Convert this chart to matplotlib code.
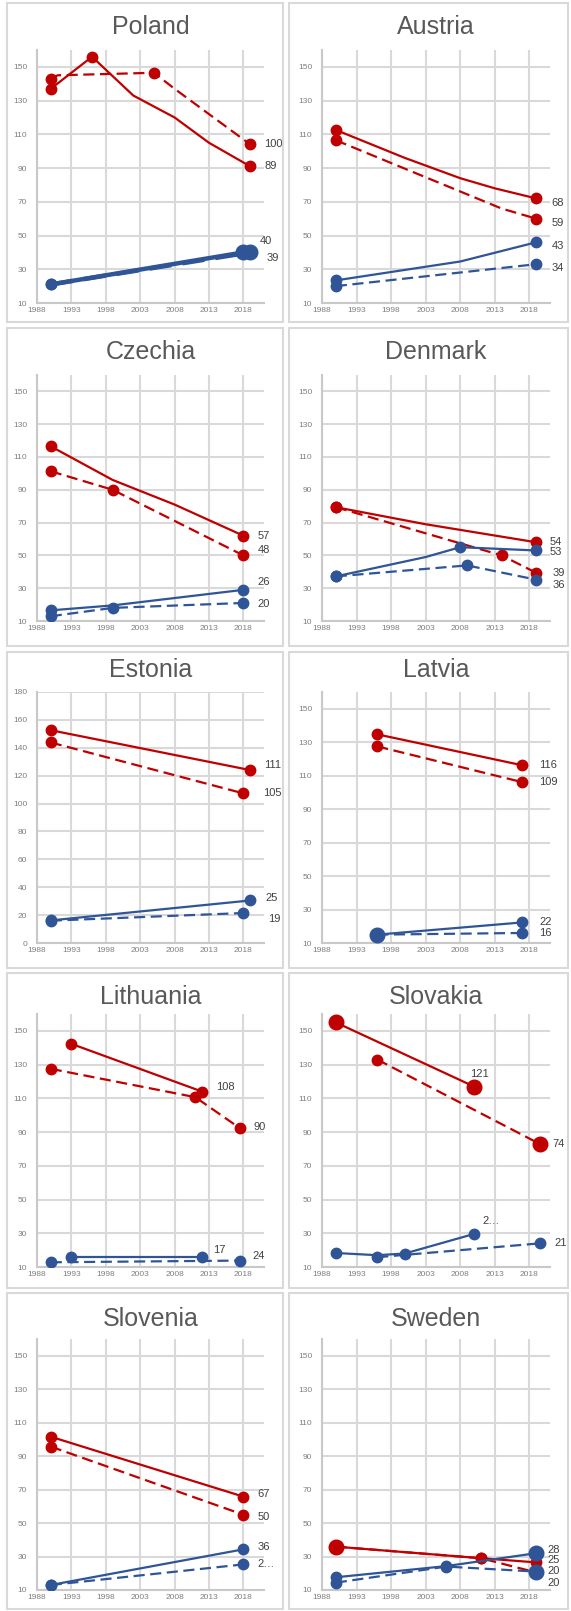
import matplotlib
matplotlib.use("Agg")
import matplotlib.pyplot as plt
from matplotlib.patches import Rectangle

plt.rcParams['font.family'] = ['Liberation Sans', 'DejaVu Sans']

# series keys: rs = red solid, rd = red dashed, bs = blue solid, bd = blue dashed
countries = ['Poland', 'Austria', 'Czechia', 'Denmark', 'Estonia',
             'Latvia', 'Lithuania', 'Slovakia', 'Slovenia', 'Sweden']

poland = {
    'rs': ([1990, 1996, 2002, 2008, 2013, 2019], [137, 156, 133, 120, 105, 91]),
    'rd': ([1990, 1991, 2005, 2008, 2019], [143, 145, 146.5, 137, 104]),
    'bs': ([1990, 2018], [21, 40]),
    'bd': ([1990, 2019], [21, 40]),
}
austria = {
    'rs': ([1990, 2000, 2008, 2013, 2019], [112.6, 96, 84, 78, 72]),
    'rd': ([1990, 2014, 2019], [106.5, 66, 60]),
    'bs': ([1990, 2008, 2019], [23.4, 34.6, 46]),
    'bd': ([1990, 2019], [20, 33]),
}
czechia = {
    'rs': ([1990, 1999, 2008, 2018], [116.5, 96, 81, 62]),
    'rd': ([1990, 1999, 2018], [101.3, 90, 50]),
    'bs': ([1990, 1999, 2018], [16.5, 19.5, 29]),
    'bd': ([1990, 1999, 2018], [12.9, 18, 21]),
}
denmark = {
    'rs': ([1990, 2003, 2019], [79.4, 69, 58]),
    'rd': ([1990, 2014, 2019], [79.4, 50, 39.4]),
    'bs': ([1990, 2003, 2008, 2019], [37.2, 49, 55, 53]),
    'bd': ([1990, 2009, 2019], [37.2, 43.9, 35.2]),
}
estonia = {
    'rs': ([1990, 2019], [152.6, 124]),
    'rd': ([1990, 2018], [143.8, 107.3]),
    'bs': ([1990, 2019], [16.2, 30.5]),
    'bd': ([1990, 2018], [16, 21.5]),
}
latvia = {
    'rs': ([1996, 2017], [134.7, 116.2]),
    'rd': ([1996, 2017], [127.5, 106.1]),
    'bs': ([1996, 2017], [15, 22.3]),
    'bd': ([1996, 2017], [15, 16]),
}
lithuania = {
    'rs': ([1993, 2012], [142.3, 114]),
    'rd': ([1990, 2011, 2017.5], [127.5, 110.7, 92.3]),
    'bs': ([1993, 2012], [16, 16]),
    'bd': ([1990, 2017.5], [12.8, 13.8]),
}
slovakia = {
    'rs': ([1990, 2010], [155, 117]),
    'rd': ([1996, 2019.5], [133, 83]),
    'bs': ([1990, 1996, 2000, 2010], [18.3, 17, 18, 29.6]),
    'bd': ([1996, 2019.5], [15.8, 24]),
}
slovenia = {
    'rs': ([1990, 2018], [101.6, 65.8]),
    'rd': ([1990, 2018], [95.7, 55]),
    'bs': ([1990, 2018], [13, 34.3]),
    'bd': ([1990, 2018], [13, 25.3]),
}
sweden = {
    'rs': ([1990, 2011, 2019], [35.9, 29, 26.5]),
    'rd': ([1990, 2011, 2019], [35.9, 29, 20.5]),
    'bs': ([1990, 2006, 2019], [17.6, 24.3, 32]),
    'bd': ([1990, 2006, 2019], [14.4, 24, 21]),
}
data = [poland, austria, czechia, denmark, estonia,
        latvia, lithuania, slovakia, slovenia, sweden]

# end labels (rs, rd, bs, bd)
end_labels = [
    ['89', '100', '40', '39'],
    ['68', '59', '43', '34'],
    ['57', '48', '26', '20'],
    ['54', '39', '53', '36'],
    ['111', '105', '25', '19'],
    ['116', '109', '22', '16'],
    ['108', '90', '17', '24'],
    ['121', '74', '2…', '21'],
    ['67', '50', '36', '2…'],
    ['25', '20', '28', '20'],
]

x_ticks = [1988, 1993, 1998, 2003, 2008, 2013, 2018]

# ---- styling ----
RED = '#c00000'
BLUE = '#2f5597'
GRID = '#d9d9d9'
W, H = 571, 1611

keys = ['rs', 'rd', 'bs', 'bd']
colors = {'rs': RED, 'rd': RED, 'bs': BLUE, 'bd': BLUE}
styles = {'rs': '-', 'rd': (0, (5, 2.5)), 'bs': '-', 'bd': (0, (5, 2.5))}

# which points carry a marker (default: first and last)
marks = {
    ('Poland', 'rs'): [0, 1, 5], ('Poland', 'rd'): [0, 2, 4],
    ('Czechia', 'rd'): [0, 1, 2], ('Czechia', 'bd'): [0, 1, 2],
    ('Denmark', 'rd'): [0, 1, 2], ('Denmark', 'bs'): [0, 2, 3],
    ('Denmark', 'bd'): [0, 1, 2],
    ('Lithuania', 'rd'): [0, 1, 2],
    ('Slovakia', 'bs'): [0, 2, 3],
    ('Sweden', 'rs'): [0, 1, 2], ('Sweden', 'rd'): [1, 2],
    ('Sweden', 'bs'): [0, 1, 2], ('Sweden', 'bd'): [0, 1, 2],
}
# points drawn with a larger marker
big = {
    ('Poland', 'bs'): [1], ('Poland', 'bd'): [1],
    ('Latvia', 'bs'): [0],
    ('Slovakia', 'rs'): [0, 1], ('Slovakia', 'rd'): [1],
    ('Sweden', 'rs'): [0], ('Sweden', 'bs'): [2], ('Sweden', 'bd'): [2],
}
thick = {'Poland'}

offsets = {
    'Poland': [(10, 0), (10, 0), (12, 8), (12, -4)],
    'Austria': [(11, -3)] * 4,
    'Czechia': [(10, 0), (10, 4), (10, 6), (10, -1)],
    'Denmark': [(10, 0), (12, 0), (10, -1), (12, -4)],
    'Estonia': [(10, 4), (14, 0), (11, 2), (18, -4)],
    'Latvia': [(12, 0)] * 4,
    'Lithuania': [(10, 3), (10, 1), (8, 5), (9, 3)],
    'Slovakia': [(-3, 9), (9, 0), (6, 9), (11, 0)],
    'Slovenia': [(10, 2), (10, -2), (10, 2), (10, 0)],
    'Sweden': [(8, 2), (8, 1), (8, 2), (8, -8)],
}

row_axes = [(50, 303), (375, 621), (692, 943), (1014, 1267), (1339, 1590)]
row_title = [27, 352, 670, 997, 1319]
row_box = [(3, 322), (328, 646), (652, 968), (973, 1288), (1293, 1609)]
col_axes = [(37, 264), (322, 550)]
col_box = [(7, 283), (289, 568)]

fig = plt.figure(figsize=(W / 100, H / 100), dpi=100)
fig.patch.set_facecolor('white')

for i, name in enumerate(countries):
    r, c = divmod(i, 2)
    bx0, bx1 = col_box[c]
    by0, by1 = row_box[r]
    fig.patches.append(Rectangle((bx0 / W, 1 - by1 / H), (bx1 - bx0) / W, (by1 - by0) / H,
                                 transform=fig.transFigure, fill=False,
                                 edgecolor=GRID, lw=1.5))
    ax0, ax1 = col_axes[c]
    at, ab = row_axes[r]
    ax = fig.add_axes([ax0 / W, 1 - ab / H, (ax1 - ax0) / W, (ab - at) / H])
    fig.text((ax0 + ax1) / 2 / W, 1 - row_title[r] / H, name, ha='center', va='center',
             fontsize=18, color='#595959')

    d = data[i]
    for k_i, k in enumerate(keys):
        xs, ys = d[k]
        me = marks.get((name, k), [0, len(xs) - 1])
        bg = big.get((name, k), [])
        small = [j for j in me if j not in bg]
        lw = 3.2 if name in thick and k in ('bs', 'bd') else 1.6
        ax.plot(xs, ys, color=colors[k], linestyle=styles[k], lw=lw,
                marker='o', markevery=small, markersize=7.5, zorder=3 + k_i)
        if bg:
            ax.plot([xs[j] for j in bg], [ys[j] for j in bg], 'o', color=colors[k],
                    markersize=10.5, zorder=3 + k_i)
        dx, dy = offsets[name][k_i]
        ax.annotate(end_labels[i][k_i], (xs[-1], ys[-1]), xytext=(dx, dy),
                    textcoords='offset points', ha='left', va='center',
                    fontsize=8, color='#404040', annotation_clip=False, zorder=10)

    ax.set_xlim(1988, 2021)
    if name == 'Estonia':
        ax.set_ylim(0, 180)
        ax.set_yticks(range(0, 181, 20))
    else:
        ax.set_ylim(10, 160)
        ax.set_yticks(range(10, 151, 20))
    ax.set_xticks(x_ticks)
    ax.grid(True, color=GRID, lw=1.5)
    ax.set_axisbelow(True)
    for s in ['top', 'right']:
        ax.spines[s].set_visible(False)
    for s in ['left', 'bottom']:
        ax.spines[s].set_color('#c8c8c8')
        ax.spines[s].set_linewidth(1.5)
    ax.tick_params(length=0, labelsize=6, labelcolor='#7f7f7f')
    ax.tick_params(axis='y', pad=7)
    ax.tick_params(axis='x', pad=3)
    ax.set_facecolor('white')

fig.savefig('out.png', dpi=100, facecolor='white')
